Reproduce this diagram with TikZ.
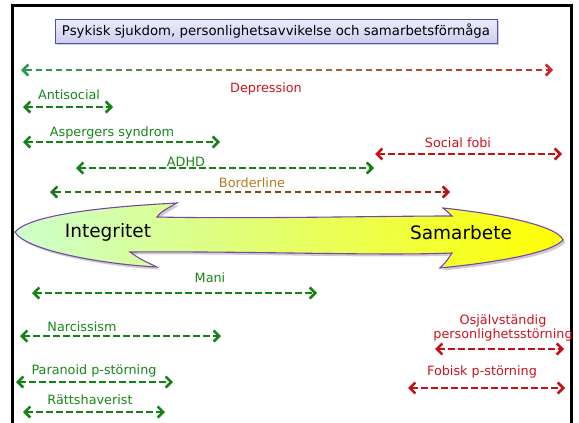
\documentclass[tikz,border=0pt]{standalone}
\usepackage{fontspec}
\setmainfont{DejaVu Sans}
\usetikzlibrary{arrows.meta,calc,shadows}

\definecolor{lblgreen}{RGB}{25,135,25}
\definecolor{lblred}{RGB}{205,20,30}
\definecolor{lblbrown}{RGB}{185,120,35}
\definecolor{arrgreen}{RGB}{20,130,20}
\definecolor{arrred}{RGB}{200,15,20}
% colours of the long spectrum line
\definecolor{specL}{RGB}{45,150,80}
\definecolor{specM}{RGB}{150,115,60}
\definecolor{specR}{RGB}{205,40,40}
% colours of the borderline line
\definecolor{bordL}{RGB}{25,120,20}
\definecolor{bordM}{RGB}{120,80,15}
\definecolor{bordR}{RGB}{185,20,15}
\definecolor{titleedge}{RGB}{80,80,160}
\definecolor{titletop}{RGB}{236,236,252}
\definecolor{titlebot}{RGB}{205,205,242}
\definecolor{bigedge}{RGB}{120,70,170}
\definecolor{bigL}{RGB}{204,255,204}
\definecolor{bigM}{RGB}{225,250,120}
\definecolor{bigR}{RGB}{255,255,0}

\tikzset{
  barb/.tip={Straight Barb[length=5.5pt,width=11pt]},
  spanline/.style={line width=2.5pt, dash pattern=on 6.5pt off 3.5pt, barb-barb},
  lbl/.style={inner sep=0pt, font=\fontsize{12.8}{14.5}\selectfont},
  biglbl/.style={inner sep=0pt, font=\fontsize{18.5}{20}\selectfont, text=black},
  titlebox/.style={draw=titleedge, line width=0.8pt, top color=titletop, bottom color=titlebot,
    minimum width=442pt, minimum height=24pt, inner sep=0pt,
    font=\fontsize{13.3}{15}\selectfont,
    drop shadow={shadow xshift=2pt, shadow yshift=-2pt, opacity=0.35}},
}

% plain dashed double arrow between two named ends
\newcommand\spanarrow[5]{%
  \coordinate (#1-l) at (#2,#4);
  \coordinate (#1-r) at (#3,#4);
  \draw[spanline,#5] (#1-l) -- (#1-r);
}

% dashed double arrow whose colour runs from #5 over #6 to #7
\newcommand\gradspan[7]{%
  \coordinate (#1-l) at (#2,#4);
  \coordinate (#1-r) at (#3,#4);
  \pgfmathsetmacro\gsLen{#3-#2}
  \pgfmathtruncatemacro\gsN{(\gsLen-14)/10}
  \foreach \i in {0,...,\gsN}{
    \pgfmathsetmacro\fa{(5+\i*10)/\gsLen}
    \pgfmathsetmacro\fb{min(\fa+6.5/\gsLen,(\gsLen-4)/\gsLen)}
    \pgfmathsetmacro\ft{(\fa+\fb)/2}
    \ifdim\ft pt<0.5pt
      \pgfmathtruncatemacro\pc{200*\ft}
      \colorlet{segc}{#6!\pc!#5}
    \else
      \pgfmathtruncatemacro\pc{200*\ft-100}
      \colorlet{segc}{#7!\pc!#6}
    \fi
    \draw[segc, line width=2.5pt] ($(#1-l)!\fa!(#1-r)$) -- ($(#1-l)!\fb!(#1-r)$);
  }
  \draw[#5, line width=2.5pt, barb-] (#1-l) -- ($(#1-l)!7/\gsLen!(#1-r)$);
  \draw[#7, line width=2.5pt, -barb] ($(#1-r)!7/\gsLen!(#1-l)$) -- (#1-r);
}

\begin{document}
\begin{tikzpicture}[x=1pt,y=-1pt]
  \useasboundingbox (0,0) rectangle (579,423);
  \fill[white] (0,0) rectangle (579,423);

  % frame
  \draw[black, line width=3pt] (12.5,423) -- (12.5,5.3) -- (571.7,5.3) -- (571.7,423);

  % title
  \node[titlebox] (title) at (276,31) {Psykisk sjukdom, personlighetsavvikelse och samarbetsförmåga};

  % spectrum line
  \gradspan{spec}{21}{553}{70}{specL}{specM}{specR}
  \node[lbl, text=lblred] (depT) at (266,89) {Depression};

  % upper conditions
  \spanarrow{anti}{23}{113}{107}{arrgreen}
  \node[lbl, text=lblgreen] (antiT) at (69,95) {Antisocial};

  \spanarrow{asp}{23}{220}{142}{arrgreen}
  \node[lbl, text=lblgreen] (aspT) at (112,133) {Aspergers syndrom};

  \spanarrow{sfob}{375}{562}{154}{arrred}
  \node[lbl, text=lblred] (sfobT) at (458,143) {Social fobi};

  \spanarrow{adhd}{76}{374}{168}{arrgreen}
  \node[lbl, text=lblgreen] (adhdT) at (186,162) {ADHD};

  \gradspan{bord}{50}{450}{192}{bordL}{bordM}{bordR}
  \node[lbl, text=lblbrown] (bordT) at (252,183) {Borderline};

  % central double arrow
  \path[draw=bigedge, line width=1.1pt, left color=bigL, middle color=bigM, right color=bigR,
        drop shadow={shadow xshift=2.5pt, shadow yshift=-2.5pt, opacity=0.4}]
    (15,232) .. controls (30,215) and (100,207) .. (177,203)
    .. controls (168,208) and (160,212) .. (157,217)
    .. controls (250,219) and (380,216) .. (452,216)
    .. controls (449,213) .. (443,208)
    .. controls (500,214) and (558,226) .. (563,240)
    .. controls (550,254) and (490,263) .. (440,268)
    .. controls (446,262) .. (452,253)
    .. controls (380,256) and (250,251) .. (130,252)
    .. controls (140,259) .. (157,267)
    .. controls (100,264) and (25,250) .. (15,232) -- cycle;
  \node[biglbl] (integ) at (108,232) {Integritet};
  \node[biglbl] (samar) at (461,233) {Samarbete};

  % lower conditions
  \spanarrow{mani}{32}{317}{293}{arrgreen}
  \node[lbl, text=lblgreen] (maniT) at (210,278) {Mani};

  \spanarrow{narc}{20}{221}{336}{arrgreen}
  \node[lbl, text=lblgreen] (narcT) at (82,327) {Narcissism};

  \spanarrow{osj}{435}{564}{349}{arrred}
  \node[lbl, text=lblred, align=center] (osjT) at (503,328) {Osjälvständig\\personlighetsstörning};

  \spanarrow{para}{16}{173}{382}{arrgreen}
  \node[lbl, text=lblgreen] (paraT) at (94,371) {Paranoid p-störning};

  \spanarrow{fob}{408}{565}{388}{arrred}
  \node[lbl, text=lblred] (fobT) at (482,372) {Fobisk p-störning};

  \spanarrow{ratt}{23}{165}{412}{arrgreen}
  \node[lbl, text=lblgreen] (rattT) at (90,400) {Rättshaverist};
\end{tikzpicture}
\end{document}
